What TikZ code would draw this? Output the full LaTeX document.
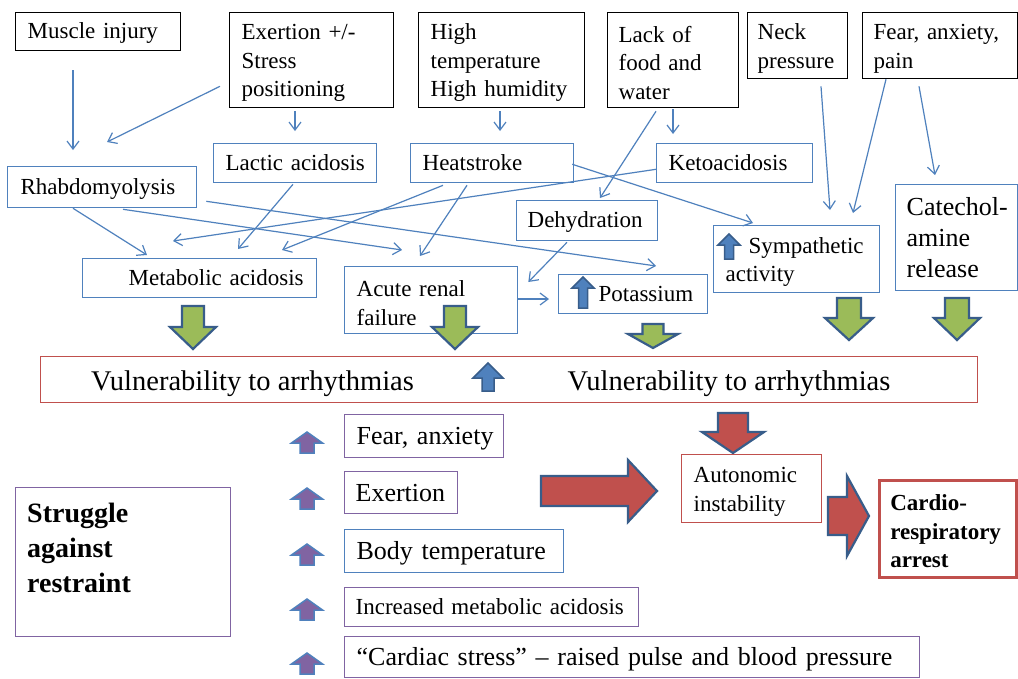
\documentclass[tikz,border=0pt]{standalone}
\usepackage{fontspec}
\setmainfont{Liberation Serif}
\usetikzlibrary{arrows.meta,calc}
\definecolor{cblue}{RGB}{79,129,189}
\definecolor{dblue}{RGB}{56,93,138}
\definecolor{cred}{RGB}{192,80,77}
\definecolor{cpurple}{RGB}{128,100,162}
\definecolor{cgreen}{RGB}{155,187,89}
\frenchspacing
\newcommand\fsM{\fontsize{23pt}{28.5pt}\selectfont}
\newcommand\fsL{\fontsize{26pt}{31pt}\selectfont}
\newcommand\fsV{\fontsize{28.5pt}{33pt}\selectfont}
\newcommand\fsB{\fontsize{28pt}{35pt}\selectfont\bfseries}
\newcommand\FirstStrut{\rule{0pt}{21.5pt}}
\newcommand\DownBlk[7]{\filldraw[#1] (#2-#6,#3) -- (#2+#6,#3) -- (#2+#6,#4) -- (#2+#7,#4) -- (#2,#5) -- (#2-#7,#4) -- (#2-#6,#4) -- cycle;}
\newcommand\UpBlk[7]{\filldraw[#1] (#2,#3) -- (#2+#7,#4) -- (#2+#6,#4) -- (#2+#6,#5) -- (#2-#6,#5) -- (#2-#6,#4) -- (#2-#7,#4) -- cycle;}
\newcommand\RightBlk[7]{\filldraw[#1] (#3,#2-#6) -- (#4,#2-#6) -- (#4,#2-#7) -- (#5,#2) -- (#4,#2+#7) -- (#4,#2+#6) -- (#3,#2+#6) -- cycle;}
\begin{document}
\begin{tikzpicture}[x=1pt,y=-1pt,
  bx/.style={anchor=north west, inner ysep=0pt, inner xsep=12pt, align=left, font=\fsM, line width=1.3pt, fill=white},
  blk/.style={bx, draw=black},
  blu/.style={bx, draw=cblue},
  rbx/.style={bx, draw=cred},
  pbx/.style={bx, draw=cpurple},
  sl/.style={text height=19pt, text depth=5pt},
  slL/.style={text height=22pt, text depth=5pt},
  conn/.style={draw=cblue, line width=1.2pt, -{Straight Barb[length=8pt,width=12pt]}},
  garr/.style={fill=cgreen, draw=dblue, line width=2.2pt, line join=miter},
  rarr/.style={fill=cred, draw=dblue, line width=2.2pt, line join=miter},
  barr/.style={fill=cblue, draw=dblue, line width=1.5pt, line join=miter},
  parr/.style={fill=cpurple, draw=cblue, line width=1.5pt, line join=miter}]
\useasboundingbox (0,0) rectangle (1018,678);
\fill[white] (0,0) rectangle (1018,678);

% top row
\node[blk, sl, minimum width=165, minimum height=38, text width=141] (mus) at (15,12) {\mbox{Muscle injury}};
\node[blk, minimum width=164, minimum height=95, text width=140] (exe) at (229,12) {\mbox{\FirstStrut Exertion +/-}\\\mbox{Stress}\\\mbox{positioning}};
\node[blk, minimum width=166, minimum height=95, text width=142] (hig) at (418,12) {\mbox{\FirstStrut High}\\\mbox{temperature}\\\mbox{High humidity}};
\node[blk, minimum width=131, minimum height=95, text width=109, inner xsep=11pt] (lac) at (607,12) {\mbox{\FirstStrut Lack of}\\\mbox{food and}\\\mbox{water}};
\node[blk, minimum width=100, minimum height=66, text width=80, inner xsep=10pt] (nec) at (747,12) {\mbox{\FirstStrut Neck}\\\mbox{pressure}};
\node[blk, minimum width=155, minimum height=66, text width=133, inner xsep=11pt] (fea) at (862,12) {\mbox{\FirstStrut Fear, anxiety,}\\\mbox{pain}};

% second level
\node[blu, sl, minimum width=163, minimum height=39, text width=139] (lacA) at (213,143) {\mbox{Lactic acidosis}};
\node[blu, sl, minimum width=163, minimum height=39, text width=139] (hea) at (410,143) {\mbox{Heatstroke}};
\node[blu, sl, minimum width=156, minimum height=39, text width=132] (ket) at (656,143) {\mbox{Ketoacidosis}};
\node[blu, sl, minimum width=189, minimum height=41, text width=163, inner xsep=13pt] (rha) at (7,166) {\mbox{Rhabdomyolysis}};
\node[blu, sl, minimum width=141, minimum height=40, text width=119, inner xsep=11pt] (deh) at (516,200) {\mbox{Dehydration}};
\node[blu, minimum width=166, minimum height=67, text width=142] (sym) at (713,225) {\mbox{\FirstStrut\hspace{23pt}Sympathetic}\\\mbox{activity}};
\node[blu, minimum width=122, minimum height=106, text width=100, inner xsep=11pt, font=\fsL] (cat) at (895,184) {\mbox{Catechol-}\\\mbox{amine}\\\mbox{release}};
\node[blu, sl, minimum width=234, minimum height=39, text width=208, inner xsep=13pt, align=right] (met) at (82,258) {\mbox{Metabolic acidosis}};
\node[blu, minimum width=173, minimum height=67, text width=149] (arf) at (344,266) {\mbox{\FirstStrut Acute renal}\\\mbox{failure}};
\node[blu, sl, minimum width=149, minimum height=39, text width=125] (pot) at (558,274) {\mbox{\hspace{28pt}Potassium}};

% small up arrows inside boxes
\UpBlk{barr}{583}{277}{288}{308}{4.5}{11}
\UpBlk{barr}{729}{234}{245}{259}{4.5}{11}

% connectors
\draw[conn] ($(mus.south west)+(58,19)$) -- ($(rha.north west)+(66,-16)$);
\draw[conn] ($(exe.south west)+(-9,-22)$) -- ($(rha.north west)+(100,-24)$);
\draw[conn] ($(exe.south west)+(66,3)$) -- ($(lacA.north west)+(82,-12)$);
\draw[conn] ($(hig.south west)+(82,3)$) -- ($(hea.north west)+(90,-12)$);
\draw[conn] ($(lac.south west)+(66,1)$) -- ($(ket.north west)+(17,-9)$);
\draw[conn] ($(lac.south west)+(49,3)$) -- ($(deh.north west)+(84,-2)$);
\draw[conn] ($(nec.south west)+(74,7)$) -- ($(sym.north west)+(117,-15)$);
\draw[conn] ($(fea.south west)+(24,0)$) -- ($(sym.north west)+(140,-12)$);
\draw[conn] ($(fea.south west)+(57,7)$) -- ($(cat.north west)+(40,-9)$);
\draw[conn] ($(rha.south west)+(66,0)$) -- ($(met.north west)+(65,-3)$);
\draw[conn] ($(rha.south west)+(116,1)$) -- ($(arf.north west)+(58,-16)$);
\draw[conn] ($(rha.south east)+(9,-7)$) -- ($(pot.north west)+(98,-8)$);
\draw[conn] ($(lacA.south west)+(80,1)$) -- ($(met.north west)+(156,-9)$);
\draw[conn] ($(hea.south west)+(33,2)$) -- ($(met.north west)+(200,-8)$);
\draw[conn] ($(hea.south west)+(57,2)$) -- ($(arf.north west)+(76,-10)$);
\draw[conn] ($(ket.south west)+(0,-14)$) -- ($(met.north west)+(91,-17)$);
\draw[conn] ($(hea.south east)+(-2,-19)$) -- ($(sym.north west)+(40,-2)$);
\draw[conn] ($(deh.south west)+(51,1)$) -- ($(arf.north east)+(10,16)$);
\draw[conn] ($(arf.north east)+(0,33)$) -- ($(pot.north west)+(-9,25)$);

% green block arrows
\DownBlk{garr}{193}{306}{327}{349}{11}{23}
\DownBlk{garr}{455}{306}{327}{349}{11}{23}
\DownBlk{garr}{653}{324}{334}{348}{10.5}{25}
\DownBlk{garr}{849}{298}{318}{340}{12}{24}
\DownBlk{garr}{957}{298}{318}{340}{12}{23}

% vulnerability
\node[rbx, minimum width=937, minimum height=46, inner sep=0pt] (vul) at (40,356) {};
\node[font=\fsV, anchor=base, inner sep=0pt] (v1) at (252.5,390) {Vulnerability to arrhythmias};
\node[font=\fsV, anchor=base, inner sep=0pt] (v2) at (729,390) {Vulnerability to arrhythmias};
\UpBlk{barr}{488}{363}{378}{391}{6}{15}

% red block arrows
\DownBlk{rarr}{733}{413}{432}{453}{15}{31}
\RightBlk{rarr}{491}{541}{628}{657}{15}{31}
\RightBlk{rarr}{516}{828}{847}{869}{19}{40}

\node[rbx, minimum width=140, minimum height=68, text width=116] (aut) at (681,454) {\mbox{\FirstStrut Autonomic}\\\mbox{instability}};
\node[rbx, line width=2.5pt, minimum width=137, minimum height=97, text width=115, inner xsep=11pt, font=\fsM\bfseries] (car) at (878,479) {\mbox{\FirstStrut Cardio-}\\\mbox{respiratory}\\\mbox{arrest}};

% struggle
\node[pbx, minimum width=215, minimum height=149, inner sep=0pt] (str) at (15,487) {};
\node[anchor=north west, inner sep=0pt, align=left, font=\fsB] (strt) at (27,503) {Struggle\\against\\restraint};

% bottom list
\node[pbx, slL, minimum width=159, minimum height=43, text width=135, font=\fsL] (f1) at (344,414) {\mbox{Fear, anxiety}};
\node[pbx, slL, minimum width=113, minimum height=42, text width=91, inner xsep=11pt, font=\fsL] (f2) at (344,471) {\mbox{Exertion}};
\node[blu, slL, minimum width=219, minimum height=43, text width=195, font=\fsL] (f3) at (344,529) {\mbox{Body temperature}};
\node[pbx, sl, minimum width=294, minimum height=39, text width=272, inner xsep=11pt] (f4) at (344,587) {\mbox{Increased metabolic acidosis}};
\node[pbx, slL, minimum width=575, minimum height=41, text width=551, font=\fsL] (f5) at (344,636) {\mbox{“Cardiac stress” – raised pulse and blood pressure}};

\UpBlk{parr}{307}{432}{443}{453}{7}{15.5}
\UpBlk{parr}{307}{488}{499}{509}{7}{15.5}
\UpBlk{parr}{307}{544}{555}{565}{7}{15.5}
\UpBlk{parr}{307}{599}{610}{620}{7}{15.5}
\UpBlk{parr}{307}{653}{664}{674}{7}{15.5}
\end{tikzpicture}
\end{document}
